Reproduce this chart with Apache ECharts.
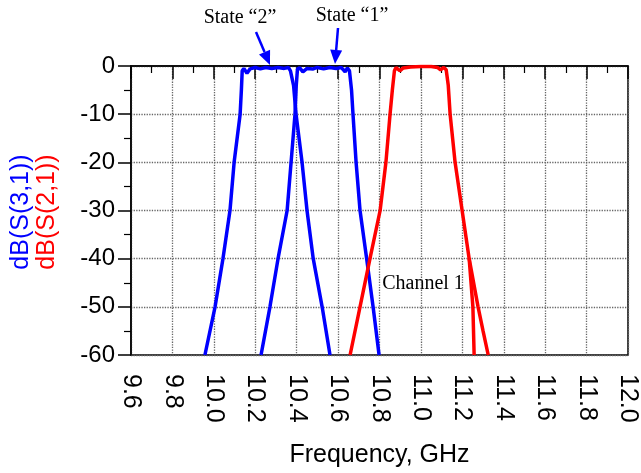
<!doctype html>
<html lang="en">
<head>
    <meta charset="UTF-8">
    <title>Channel 1 filter states</title>
    <style>
        body{ margin:0; background:#fff; }
        #main{ width:641px; height:473px; }
    </style>
</head>
<body>
<div id="main"></div>
<script src="https://cdn.jsdelivr.net/npm/echarts@6/dist/echarts.min.js"></script>
<script>
    // frequency (GHz), dB
    var stateTwo = [
        [9.957,-60],[10.006,-50],[10.044,-40],[10.078,-30],[10.098,-20],[10.127,-10],[10.133,-5],
        [10.137,-1.0],[10.145,-0.5],[10.160,-1.5],[10.175,-0.6],[10.20,-0.3],[10.225,-0.6],[10.25,-0.3],
        [10.28,-0.5],[10.31,-0.3],[10.34,-0.5],[10.36,-0.3],[10.370,-1.0],[10.385,-4],[10.397,-10],
        [10.426,-20],[10.450,-30],[10.48,-40],[10.523,-50],[10.561,-60]
    ];
    var stateOne = [
        [10.228,-60],[10.271,-50],[10.31,-40],[10.354,-30],[10.373,-20],[10.392,-10],[10.398,-4],
        [10.404,-0.6],[10.415,-0.4],[10.43,-1.2],[10.45,-0.5],[10.48,-0.6],[10.50,-0.3],[10.53,-0.6],
        [10.56,-0.3],[10.59,-0.5],[10.615,-0.3],[10.634,-1.2],[10.645,-0.4],[10.655,-1.0],[10.665,-5],
        [10.672,-10],[10.687,-20],[10.706,-30],[10.738,-40],[10.769,-50],[10.798,-60]
    ];
    var channelOne = [
        [10.658,-60],[10.706,-50],[10.754,-40],[10.803,-30],[10.831,-20],[10.851,-10],[10.862,-5],
        [10.872,-1.0],[10.88,-0.3],[10.898,-1.0],[10.915,-0.4],[10.95,-0.2],[11.0,-0.1],[11.05,-0.1],
        [11.08,-0.3],[11.095,-0.8],[11.11,-0.3],[11.122,-0.8],[11.132,-4],[11.141,-10],[11.165,-20],
        [11.199,-30],[11.233,-40],[11.276,-50],[11.30,-55],[11.325,-60]
    ];
    var channelOneTail = [[11.233,-40],[11.251,-50],[11.257,-60]];

    var xTicks = { min: 9.6, max: 12.0, step: 0.2 };
    var yTicks = { min: -60, max: 0, step: 10 };

    var myChart = echarts.init(document.getElementById('main'));

    // arrow = line + filled head, in pixels
    function arrow(x1, y1, x2, y2) {
        var dx = x2 - x1, dy = y2 - y1;
        var len = Math.sqrt(dx * dx + dy * dy);
        var ux = dx / len, uy = dy / len;
        var bx = x2 - ux * 14, by = y2 - uy * 14;
        return [
            { type: 'line', shape: { x1: x1, y1: y1, x2: bx, y2: by }, style: { stroke: '#0000ff', lineWidth: 2.5 }, z: 10 },
            { type: 'polygon', shape: { points: [[x2, y2], [bx - uy * 6, by + ux * 6], [bx + uy * 6, by - ux * 6]] },
              style: { fill: '#0000ff' }, z: 10 }
        ];
    }

    var serif = '20px "Liberation Serif", "Times New Roman", serif';
    var sans = '"Liberation Sans", Arial, sans-serif';

    var graphic = [
        { type: 'text', x: 240, y: 18, style: { text: 'State \u201c2\u201d', font: serif, fill: '#000', align: 'center', verticalAlign: 'middle' } },
        { type: 'text', x: 352, y: 16, style: { text: 'State \u201c1\u201d', font: serif, fill: '#000', align: 'center', verticalAlign: 'middle' } },
        { type: 'text', x: 423, y: 284, style: { text: 'Channel 1', font: serif, fill: '#000', align: 'center', verticalAlign: 'middle' } },
        { type: 'text', x: 21, y: 212, rotation: Math.PI / 2,
          style: { text: 'dB(S(3,1))', font: '25px ' + sans, fill: '#0000ff', align: 'center', verticalAlign: 'middle' } },
        { type: 'text', x: 47, y: 212, rotation: Math.PI / 2,
          style: { text: 'dB(S(2,1))', font: '25px ' + sans, fill: '#ff0000', align: 'center', verticalAlign: 'middle' } }
    ].concat(arrow(256, 32, 270, 65)).concat(arrow(338, 28, 335, 64));

    var lineSeries = function (data, color) {
        return {
            type: 'line',
            data: data,
            showSymbol: false,
            smooth: false,
            clip: true,
            lineStyle: { color: color, width: 3.5 },
            itemStyle: { color: color }
        };
    };

    var option = {
        animation: false,
        grid: {
            left: 131, right: 13, top: 66, bottom: 113,
            show: true, borderColor: '#000', borderWidth: 1.5
        },
        xAxis: {
            type: 'value',
            min: xTicks.min, max: xTicks.max, interval: xTicks.step,
            axisLine: { lineStyle: { color: '#000', width: 1.5 } },
            axisTick: { length: 13, lineStyle: { color: '#000', width: 1.5 } },
            minorTick: { show: true, splitNumber: 2, length: 7, lineStyle: { color: '#000', width: 1.2 } },
            splitLine: { show: true, lineStyle: { color: '#666', type: 'dotted', width: 1.3 } },
            axisLabel: {
                rotate: -90, margin: 19, fontSize: 25, color: '#000', fontFamily: sans,
                formatter: function (v) { return v.toFixed(1); }
            },
            name: 'Frequency, GHz',
            nameLocation: 'middle',
            nameGap: 88,
            nameTextStyle: { fontSize: 25, color: '#000', fontFamily: sans }
        },
        yAxis: {
            type: 'value',
            min: yTicks.min, max: yTicks.max, interval: yTicks.step,
            axisLine: { show: true, lineStyle: { color: '#000', width: 1.5 } },
            axisTick: { show: true, length: 13, lineStyle: { color: '#000', width: 1.5 } },
            minorTick: { show: true, splitNumber: 2, length: 7, lineStyle: { color: '#000', width: 1.2 } },
            splitLine: { show: true, lineStyle: { color: '#666', type: 'dotted', width: 1.3 } },
            axisLabel: { margin: 16, fontSize: 24, color: '#000', fontFamily: sans }
        },
        graphic: graphic,
        series: [
            lineSeries(stateTwo, '#0000ff'),
            lineSeries(stateOne, '#0000ff'),
            lineSeries(channelOne, '#ff0000'),
            lineSeries(channelOneTail, '#ff0000')
        ]
    };
    myChart.setOption(option);
</script>
</body>
</html>
